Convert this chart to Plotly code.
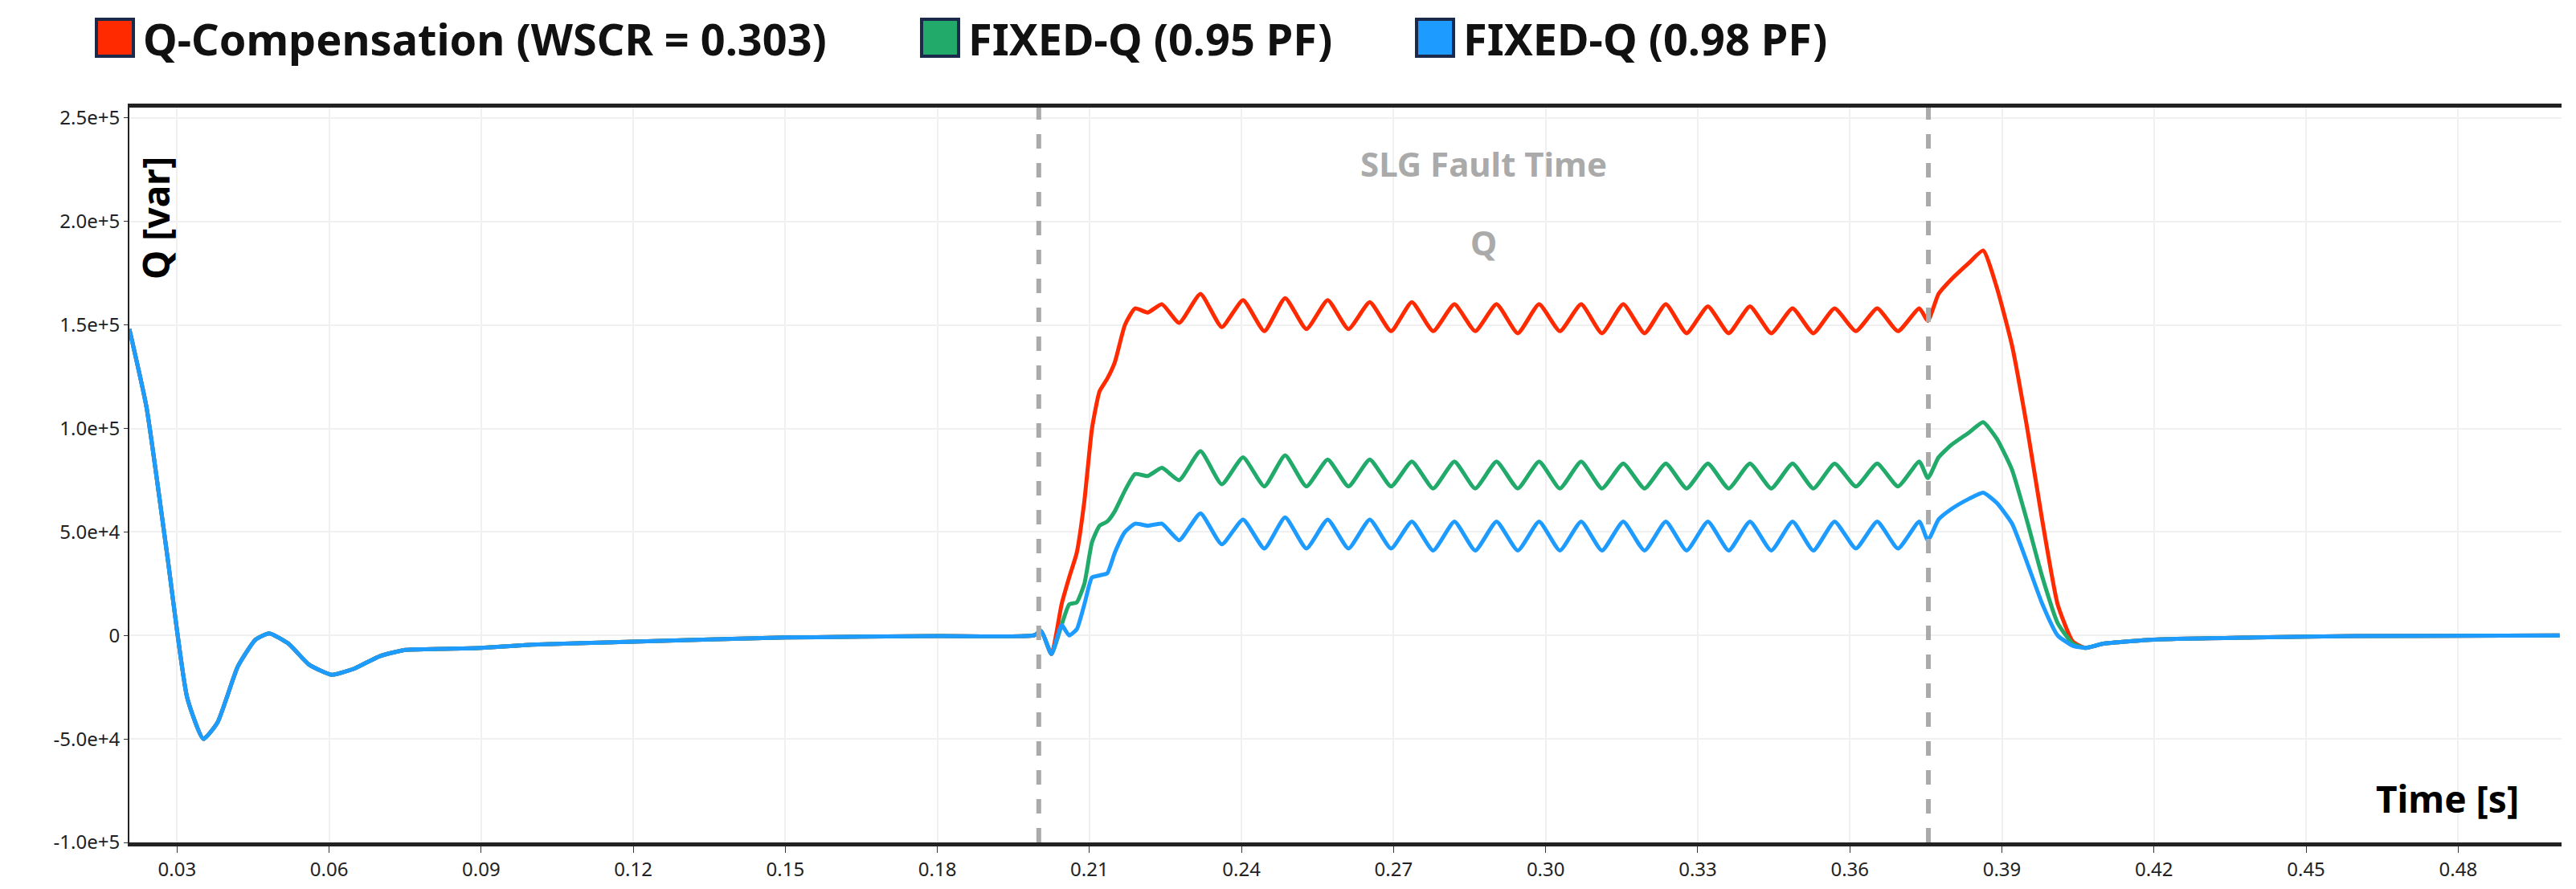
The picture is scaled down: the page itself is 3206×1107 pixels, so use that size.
import plotly.graph_objects as go

# ---- data ----
t_pre = [0.0206, 0.024, 0.028, 0.032, 0.0352, 0.038, 0.042, 0.0455, 0.0482, 0.052, 0.056, 0.0605, 0.065, 0.070, 0.075, 0.082, 0.090, 0.100, 0.120, 0.150, 0.180, 0.199, 0.2005]
q_pre = [148000, 110000, 40000, -30000, -50000, -42000, -15000, -2000, 1000, -4000, -14000, -19000, -16000, -10000, -7000, -6500, -6000, -4500, -3000, -1000, -300, 0, 2000]

t_rise = [0.2025, 0.2045, 0.206, 0.2075, 0.209, 0.2105, 0.212, 0.2135, 0.215, 0.217, 0.219, 0.2215]
red_rise = [-9000, 15000, 28000, 40000, 65000, 100000, 118000, 124000, 132000, 150000, 158000, 156000]
green_rise = [-9000, 5000, 15000, 16000, 25000, 45000, 53000, 55000, 60000, 70000, 78000, 77000]
blue_rise = [-9000, 5000, 0, 3000, 15000, 28000, 29000, 30000, 40000, 50000, 54000, 53000]

t_fault = [0.2243, 0.2277, 0.2319, 0.2361, 0.2403, 0.2445, 0.2486, 0.2528, 0.2570, 0.2611, 0.2653, 0.2695,
           0.2736, 0.2778, 0.2820, 0.2861, 0.2903, 0.2945, 0.2987, 0.3028, 0.3070, 0.3111, 0.3153, 0.3195,
           0.3237, 0.3278, 0.3320, 0.3361, 0.3403, 0.3445, 0.3487, 0.3528, 0.3570, 0.3612, 0.3654, 0.3695,
           0.3737, 0.3754]
red_fault = [160000, 151000, 165000, 149000, 162000, 147000, 163000, 148000, 162000, 148000, 161000, 147000,
             161000, 147000, 160000, 147000, 160000, 146000, 160000, 147000, 160000, 146000, 160000, 146000,
             160000, 146000, 159000, 146000, 159000, 146000, 158000, 146000, 158000, 147000, 158000, 147000,
             158000, 152000]
green_fault = [81000, 75000, 89000, 73000, 86000, 72000, 87000, 72000, 85000, 72000, 85000, 72000,
               84000, 71000, 84000, 71000, 84000, 71000, 84000, 71000, 84000, 71000, 83000, 71000,
               83000, 71000, 83000, 71000, 83000, 71000, 83000, 71000, 83000, 72000, 83000, 72000,
               84000, 76000]
blue_fault = [54000, 46000, 59000, 44000, 56000, 42000, 57000, 42000, 56000, 42000, 56000, 42000,
              55000, 41000, 55000, 41000, 55000, 41000, 55000, 41000, 55000, 41000, 55000, 41000,
              55000, 41000, 55000, 41000, 55000, 41000, 55000, 41000, 55000, 42000, 55000, 42000,
              55000, 46000]

t_post = [0.3775, 0.380, 0.3835, 0.3863, 0.389, 0.392, 0.395, 0.398, 0.401, 0.404, 0.4065, 0.410, 0.420, 0.440, 0.460, 0.500]
red_post = [165000, 172000, 180000, 186000, 168000, 140000, 100000, 55000, 15000, -3000, -6000, -4000, -2000, -1000, -300, 0]
green_post = [86000, 92000, 98000, 103000, 95000, 80000, 55000, 28000, 6000, -4000, -6000, -4000, -2000, -1000, -300, 0]
blue_post = [56000, 61000, 66000, 69000, 64000, 54000, 35000, 15000, 0, -5000, -6000, -4000, -2000, -1000, -300, 0]

series_names = ["Q-Compensation (WSCR = 0.303)", "FIXED-Q (0.95 PF)", "FIXED-Q (0.98 PF)"]
series_colors = ["#FF2A00", "#21AA6A", "#1E9BFF"]

fault_start = 0.2
fault_end = 0.3755

x_tickvals = [0.03, 0.06, 0.09, 0.12, 0.15, 0.18, 0.21, 0.24, 0.27, 0.30, 0.33, 0.36, 0.39, 0.42, 0.45, 0.48]
x_ticktext = ["0.03", "0.06", "0.09", "0.12", "0.15", "0.18", "0.21", "0.24", "0.27", "0.30", "0.33", "0.36", "0.39", "0.42", "0.45", "0.48"]
y_tickvals = [250000, 200000, 150000, 100000, 50000, 0, -50000, -100000]
y_ticktext = ["2.5e+5", "2.0e+5", "1.5e+5", "1.0e+5", "5.0e+4", "0", "-5.0e+4", "-1.0e+5"]

# ---- build ----
t_all = t_pre + t_rise + t_fault + t_post
vals = [q_pre + red_rise + red_fault + red_post,
        q_pre + green_rise + green_fault + green_post,
        q_pre + blue_rise + blue_fault + blue_post]

fig = go.Figure()
for name, col, v in zip(series_names, series_colors, vals):
    fig.add_trace(go.Scatter(x=t_all, y=v, mode="lines", name=name, showlegend=False,
                             line=dict(color=col, width=5, shape="spline", smoothing=0.5)))

for xv in (fault_start, fault_end):
    fig.add_shape(type="line", xref="x", yref="paper", x0=xv, x1=xv, y0=0, y1=1,
                  line=dict(color="#AAAAAA", width=6, dash="dash"))

W, H = 3206, 1107
L, R, T, B = 153, 3180, 126, 1041
leg_x = [112, 1139, 1755]
for lx, name, col in zip(leg_x, series_names, series_colors):
    fig.add_shape(type="rect", xref="paper", yref="paper",
                  x0=(lx - L) / (R - L), x1=(lx + 46 - L) / (R - L),
                  y0=(B - 62) / (B - T), y1=(B - 16) / (B - T),
                  fillcolor=col, line=dict(color="#1B2A4A", width=4))
    fig.add_annotation(xref="paper", yref="paper", x=(lx + 56 - L) / (R - L),
                       y=(B - 40) / (B - T), xanchor="left", yanchor="middle",
                       text="<b>" + name + "</b>", showarrow=False,
                       font=dict(size=54, color="#111111", family="Noto Sans"))

fig.add_annotation(xref="x", yref="y", x=0.2877, y=228000, text="<b>SLG Fault Time</b>",
                   showarrow=False, font=dict(size=42, color="#AAAAAA", family="Noto Sans"))
fig.add_annotation(xref="x", yref="y", x=0.2877, y=190000, text="<b>Q</b>",
                   showarrow=False, font=dict(size=42, color="#AAAAAA", family="Noto Sans"))
fig.add_annotation(xref="paper", yref="paper", x=0.0105, y=0.85, text="<b>Q [var]</b>", textangle=-90,
                   showarrow=False, xanchor="center", yanchor="middle",
                   font=dict(size=46, color="#000000", family="Noto Sans"))
fig.add_annotation(xref="paper", yref="paper", x=0.983, y=0.06, text="<b>Time [s]</b>",
                   showarrow=False, xanchor="right", yanchor="middle",
                   font=dict(size=46, color="#000000", family="Noto Sans"))

fig.update_layout(
    width=W, height=H, paper_bgcolor="white", plot_bgcolor="white",
    margin=dict(l=L, r=W - R, t=T, b=H - B),
    font=dict(family="Noto Sans", size=24, color="#222222"),
    xaxis=dict(range=[0.0206, 0.5004], tickvals=x_tickvals, ticktext=x_ticktext,
               showgrid=True, gridcolor="#F0F0F0", gridwidth=2, zeroline=False,
               showline=True, linecolor="#222222", linewidth=5, mirror=True,
               ticks="outside", ticklen=8, tickcolor="#333333", tickfont=dict(size=24)),
    yaxis=dict(range=[-100000, 255000], tickvals=y_tickvals, ticktext=y_ticktext,
               showgrid=True, gridcolor="#F0F0F0", gridwidth=2, zeroline=False,
               showline=True, linecolor="#222222", linewidth=2,
               ticks="outside", ticklen=5, tickcolor="#333333", tickfont=dict(size=24)),
)

fig.write_html("out.html")
